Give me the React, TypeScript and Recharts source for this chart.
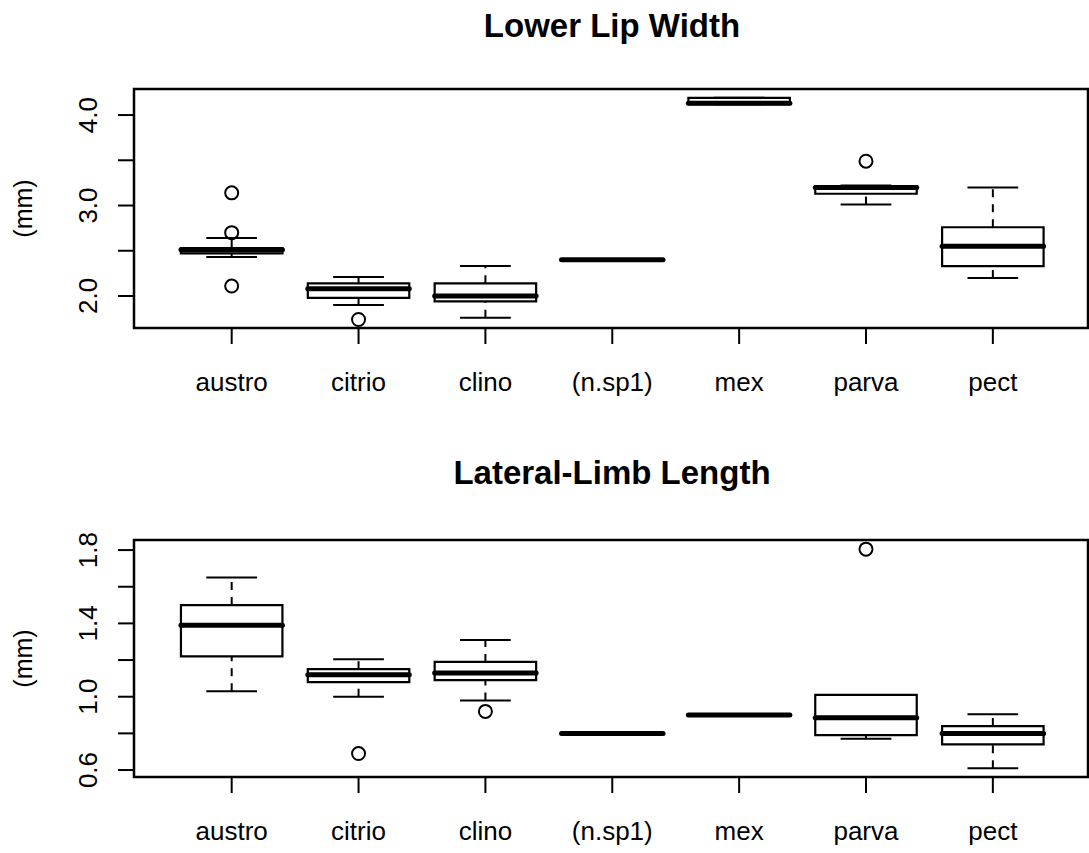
import React from 'react';
import {
    ComposedChart,
    XAxis,
    YAxis,
    Scatter,
    ReferenceArea,
    ReferenceLine,
} from 'recharts';

const species = ['austro', 'citrio', 'clino', '(n.sp1)', 'mex', 'parva', 'pect'];
const positions = [1, 2, 3, 4, 5, 6, 7];

// Lower Lip Width (mm)
const lipLow = [2.43, 1.9, 1.76, 2.4, 4.12, 3.01, 2.2];
const lipQ1 = [2.47, 1.98, 1.94, 2.4, 4.12, 3.13, 2.33];
const lipMedian = [2.51, 2.08, 2.0, 2.4, 4.13, 3.2, 2.55];
const lipQ3 = [2.53, 2.14, 2.14, 2.4, 4.19, 3.215, 2.76];
const lipHigh = [2.64, 2.21, 2.33, 2.4, 4.19, 3.22, 3.2];
const lipOutlierGroup = [1, 1, 1, 2, 6];
const lipOutlierValue = [3.14, 2.7, 2.11, 1.74, 3.49];
const lipTicks = [2.0, 2.5, 3.0, 3.5, 4.0];
const lipTickLabels = [2.0, 3.0, 4.0];

// Lateral-Limb Length (mm)
const limbLow = [1.03, 1.0, 0.98, 0.8, 0.9, 0.77, 0.61];
const limbQ1 = [1.22, 1.08, 1.09, 0.8, 0.9, 0.79, 0.74];
const limbMedian = [1.39, 1.12, 1.13, 0.8, 0.9, 0.885, 0.8];
const limbQ3 = [1.5, 1.15, 1.19, 0.8, 0.9, 1.01, 0.84];
const limbHigh = [1.65, 1.205, 1.31, 0.8, 0.9, 1.01, 0.905];
const limbOutlierGroup = [2, 3, 6];
const limbOutlierValue = [0.69, 0.92, 1.805];
const limbTicks = [0.6, 0.8, 1.0, 1.2, 1.4, 1.6, 1.8];
const limbTickLabels = [0.6, 1.0, 1.4, 1.8];

const FONT = '"Liberation Sans", Arial, Helvetica, sans-serif';
const X_DOMAIN: [number, number] = [0.23, 7.75];

interface PanelProps {
    height: number;
    top: number;
    plotTop: number;
    xAxisHeight: number;
    yDomain: [number, number];
    ticks: number[];
    tickLabels: number[];
    low: number[];
    q1: number[];
    median: number[];
    q3: number[];
    high: number[];
    outlierGroup: number[];
    outlierValue: number[];
}

const BoxPanel: React.FC<PanelProps> = (p) => {
    const outliers = p.outlierGroup.map((g, i) => ({ x: g, y: p.outlierValue[i] }));

    const renderYTick = (props: any) => {
        const { x, y, payload } = props;
        if (!p.tickLabels.some((v) => Math.abs(v - payload.value) < 1e-9)) return <g />;
        const bx = x - 19;
        return (
            <text
                x={bx}
                y={y}
                transform={`rotate(-90, ${bx}, ${y})`}
                textAnchor="middle"
                fontSize={26}
                fontFamily={FONT}
                fill="#000"
            >
                {payload.value.toFixed(1)}
            </text>
        );
    };

    const renderYLabel = (props: any) => {
        const vb = props.viewBox;
        const cy = vb.y + vb.height / 2;
        return (
            <text
                x={32}
                y={cy}
                transform={`rotate(-90, 32, ${cy})`}
                textAnchor="middle"
                fontSize={25}
                fontFamily={FONT}
                fill="#000"
            >
                (mm)
            </text>
        );
    };

    const boxes = positions.map((pos, i) => (
        <React.Fragment key={species[i]}>
            <ReferenceLine
                segment={[{ x: pos, y: p.q3[i] }, { x: pos, y: p.high[i] }]}
                stroke="#000"
                strokeWidth={2}
                strokeDasharray="8 7"
            />
            <ReferenceLine
                segment={[{ x: pos, y: p.low[i] }, { x: pos, y: p.q1[i] }]}
                stroke="#000"
                strokeWidth={2}
                strokeDasharray="8 7"
            />
            <ReferenceLine
                segment={[{ x: pos - 0.2, y: p.high[i] }, { x: pos + 0.2, y: p.high[i] }]}
                stroke="#000"
                strokeWidth={2}
            />
            <ReferenceLine
                segment={[{ x: pos - 0.2, y: p.low[i] }, { x: pos + 0.2, y: p.low[i] }]}
                stroke="#000"
                strokeWidth={2}
            />
            <ReferenceArea
                x1={pos - 0.4}
                x2={pos + 0.4}
                y1={p.q1[i]}
                y2={p.q3[i]}
                fill="#fff"
                fillOpacity={1}
                stroke="#000"
                strokeWidth={2.2}
            />
            <ReferenceLine
                segment={[{ x: pos - 0.4, y: p.median[i] }, { x: pos + 0.4, y: p.median[i] }]}
                stroke="#000"
                strokeWidth={5}
                strokeLinecap="round"
            />
        </React.Fragment>
    ));

    return (
        <div style={{ position: 'absolute', left: 0, top: p.top }}>
            <ComposedChart
                width={1089}
                height={p.height}
                margin={{ top: p.plotTop, right: 1, bottom: 0, left: 0 }}
            >
                <XAxis
                    type="number"
                    dataKey="x"
                    domain={X_DOMAIN}
                    ticks={positions}
                    interval={0}
                    allowDataOverflow
                    tickFormatter={(v: number) => species[v - 1]}
                    axisLine={false}
                    tickLine={{ stroke: '#000', strokeWidth: 2 }}
                    tickSize={16}
                    tickMargin={29}
                    height={p.xAxisHeight}
                    tick={{ fontSize: 26, fill: '#000', fontFamily: FONT }}
                />
                <YAxis
                    type="number"
                    dataKey="y"
                    domain={p.yDomain}
                    ticks={p.ticks}
                    interval={0}
                    allowDataOverflow
                    axisLine={false}
                    tickLine={{ stroke: '#000', strokeWidth: 2 }}
                    tickSize={16}
                    width={134}
                    tick={renderYTick}
                    label={{ content: renderYLabel }}
                />
                <ReferenceArea
                    x1={X_DOMAIN[0]}
                    x2={X_DOMAIN[1]}
                    y1={p.yDomain[0]}
                    y2={p.yDomain[1]}
                    fill="none"
                    stroke="#000"
                    strokeWidth={2.5}
                    ifOverflow="visible"
                />
                {boxes}
                <Scatter
                    data={outliers}
                    isAnimationActive={false}
                    shape={(s: any) => (
                        <circle cx={s.cx} cy={s.cy} r={6.5} fill="none" stroke="#000" strokeWidth={2} />
                    )}
                />
            </ComposedChart>
        </div>
    );
};

const titleStyle: React.CSSProperties = {
    position: 'absolute',
    left: 312,
    width: 600,
    textAlign: 'center',
    fontFamily: FONT,
    fontWeight: 'bold',
    fontSize: 33,
    lineHeight: '33px',
    color: '#000',
};

export default function App() {
    return (
        <div
            style={{
                position: 'absolute',
                left: 0,
                top: 0,
                width: 1089,
                height: 853,
                overflow: 'hidden',
                background: '#fff',
            }}
        >
            <div style={{ ...titleStyle, top: 9 }}>Lower Lip Width</div>
            <BoxPanel
                top={0}
                height={430}
                plotTop={89}
                xAxisHeight={102}
                yDomain={[1.646, 4.288]}
                ticks={lipTicks}
                tickLabels={lipTickLabels}
                low={lipLow}
                q1={lipQ1}
                median={lipMedian}
                q3={lipQ3}
                high={lipHigh}
                outlierGroup={lipOutlierGroup}
                outlierValue={lipOutlierValue}
            />
            <div style={{ ...titleStyle, top: 456 }}>Lateral-Limb Length</div>
            <BoxPanel
                top={430}
                height={423}
                plotTop={110}
                xAxisHeight={76}
                yDomain={[0.562, 1.855]}
                ticks={limbTicks}
                tickLabels={limbTickLabels}
                low={limbLow}
                q1={limbQ1}
                median={limbMedian}
                q3={limbQ3}
                high={limbHigh}
                outlierGroup={limbOutlierGroup}
                outlierValue={limbOutlierValue}
            />
        </div>
    );
}
